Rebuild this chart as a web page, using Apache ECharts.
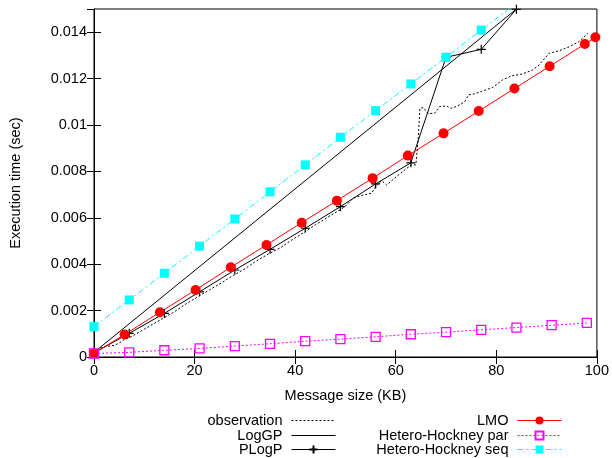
<!DOCTYPE html>
<html>
<head>
<meta charset="utf-8">
<script src="https://cdn.jsdelivr.net/npm/echarts@6/dist/echarts.min.js"></script>
<style>html,body{margin:0;padding:0;background:#fff}#c{width:612px;height:458px}</style>
</head>
<body>
<div id="c"></div>
<script>
// ---- data (seconds vs message size in KB) ----
const obsX = [0,1,2,3,4,5,6,7,8,10,12,13.6,16,18,20.7,23,25,27.8,30,32,34.9,37,39,42,44,45.6,47,48.9,50,51.5,53.5,55.2,56.2,57.2,58.2,60.1,62,63.1,64,64.5,64.8,65.5,66.4,67.7,68.7,70,71,72.3,73.7,74.5,75.6,77,79.3,81.2,82.9,85.2,87.2,88.5,90.5,92.5,94.5,96.4,98.2];
const obsY = [0.00018,0.00035,0.00045,0.00047,0.0005,0.0006,0.00075,0.00083,0.00095,0.0012,0.00145,0.00165,0.00195,0.00225,0.0026,0.0029,0.00315,0.00353,0.0038,0.0041,0.00447,0.0047,0.005,0.0054,0.0057,0.0059,0.0061,0.00634,0.0065,0.00684,0.00698,0.00706,0.00741,0.0076,0.00741,0.00777,0.0081,0.00828,0.00828,0.0095,0.01072,0.01075,0.0105,0.0105,0.01079,0.01082,0.01072,0.01082,0.011,0.0113,0.01134,0.01144,0.01162,0.01194,0.01211,0.0122,0.01237,0.01259,0.01309,0.0132,0.01337,0.01359,0.01395];

const loggpX = [0, 84];
const loggpY = [0.0002, 0.0150];

const plogpX = [0,7,14,21,28,35,42,49,56,63,70,77,84];
const plogpY = [0.00018,0.00102,0.00188,0.00281,0.00375,0.00464,0.00555,0.00648,0.00746,0.00837,0.01292,0.01326,0.01499];

const lmoX = [0,6.1,13.1,20.2,27.2,34.3,41.3,48.3,55.4,62.4,69.5,76.5,83.6,90.6,97.6,99.7];
const lmoY = [0.00016,0.00097,0.00193,0.00289,0.00387,0.00483,0.00579,0.00674,0.00771,0.00868,0.00964,0.0106,0.01157,0.01253,0.01349,0.01378];

const hparX = [0,7,14,21,28,35,42,49,56,63,70,77,84,91,98];
const hparY = [0.00015,0.0002,0.00029,0.00037,0.00047,0.00057,0.00068,0.00077,0.00087,0.00098,0.00107,0.00117,0.00127,0.00137,0.00147];

const hseqX = [0,7,14,21,28,35,42,49,56,63,70,77,84];
const hseqY = [0.00131,0.00246,0.00361,0.00478,0.00595,0.00712,0.00828,0.00947,0.01062,0.01177,0.01292,0.01409,0.01525];

const xTicks = {min: 0, max: 100, interval: 20};
const yTicks = {min: 0, max: 0.015, interval: 0.002};

const names = ['observation','LogGP','PLogP','LMO','Hetero-Hockney par','Hetero-Hockney seq'];

// ---- chart ----
const zip = (xs, ys) => xs.map((x, i) => [x, ys[i]]);
const FONT = 'Liberation Sans';
const FS = 14.5;
const plusPath = 'path://M0,5L10,5M5,0L5,10';

const chart = echarts.init(document.getElementById('c'), null, {renderer: 'canvas'});

function legendAt(name, right, top, noSymbol) {
  const l = {
    data: [name], right: right, top: top, orient: 'vertical', align: 'right',
    itemWidth: 44, itemHeight: 10, padding: 0,
    formatter: n => n + ' ',
    textStyle: {fontFamily: FONT, fontSize: FS, color: '#000'},
    lineStyle: {width: 1},
    selectedMode: false
  };
  if (noSymbol) l.itemStyle = {opacity: 0};
  return l;
}

const axisCommon = {
  axisLine: {show: true, lineStyle: {color: '#000', width: 1}},
  axisTick: {show: true, inside: true, length: 7, lineStyle: {color: '#000', width: 1}},
  splitLine: {show: false}
};

const option = {
  animation: false,
  backgroundColor: '#fff',
  grid: {left: 93, right: 14, top: 9, bottom: 101, show: true, borderColor: '#000', borderWidth: 1, containLabel: false},
  legend: [
    legendAt(names[0], 612 - 336, 413, true),
    legendAt(names[1], 612 - 336, 428, true),
    legendAt(names[2], 612 - 336, 442),
    legendAt(names[3], 612 - 562, 413),
    legendAt(names[4], 612 - 562, 428),
    legendAt(names[5], 612 - 562, 442)
  ],
  xAxis: [
    Object.assign({
      type: 'value', position: 'bottom', min: xTicks.min, max: xTicks.max, interval: xTicks.interval,
      name: 'Message size (KB)', nameLocation: 'middle', nameGap: 31,
      nameTextStyle: {fontFamily: FONT, fontSize: FS, color: '#000'},
      axisLabel: {fontFamily: FONT, fontSize: FS, color: '#000', margin: 6}
    }, axisCommon),
    Object.assign({
      type: 'value', position: 'top', min: xTicks.min, max: xTicks.max, interval: xTicks.interval,
      axisLabel: {show: false}
    }, axisCommon)
  ],
  yAxis: [
    Object.assign({
      type: 'value', position: 'left', min: yTicks.min, max: yTicks.max, interval: yTicks.interval,
      name: 'Execution time (sec)', nameLocation: 'middle', nameGap: 71, nameRotate: 90,
      nameTextStyle: {fontFamily: FONT, fontSize: FS, color: '#000'},
      axisLabel: {fontFamily: FONT, fontSize: FS, color: '#000', margin: 7, showMaxLabel: false}
    }, axisCommon),
    Object.assign({
      type: 'value', position: 'right', min: yTicks.min, max: yTicks.max, interval: yTicks.interval,
      axisLabel: {show: false}
    }, axisCommon)
  ],
  series: [
    {
      name: names[0], type: 'line', data: zip(obsX, obsY), symbol: 'none', showSymbol: false,
      lineStyle: {color: '#000', width: 1, type: [2, 2]}, itemStyle: {color: '#000'}
    },
    {
      name: names[1], type: 'line', data: zip(loggpX, loggpY), symbol: 'none', showSymbol: false,
      lineStyle: {color: '#000', width: 1}, itemStyle: {color: '#000'}
    },
    {
      name: names[2], type: 'line', data: zip(plogpX, plogpY), symbol: plusPath, symbolSize: 9,
      lineStyle: {color: '#000', width: 1},
      itemStyle: {color: 'rgba(0,0,0,0)', borderColor: '#000', borderWidth: 1.2}
    },
    {
      name: names[3], type: 'line', data: zip(lmoX, lmoY), symbol: 'circle', symbolSize: 10,
      lineStyle: {color: '#ff0000', width: 1}, itemStyle: {color: '#ff0000'}
    },
    {
      name: names[4], type: 'line', data: zip(hparX, hparY), symbol: 'rect', symbolSize: 9,
      lineStyle: {color: '#ff00ff', width: 1, type: [2, 2]},
      itemStyle: {color: 'rgba(255,255,255,0)', borderColor: '#ff00ff', borderWidth: 1.3}
    },
    {
      name: names[5], type: 'line', data: zip(hseqX, hseqY), symbol: 'rect', symbolSize: 9,
      lineStyle: {color: '#00ffff', width: 1, type: [6, 3, 2, 3]}, itemStyle: {color: '#00ffff'}
    }
  ]
};
chart.setOption(option);
</script>
</body>
</html>
